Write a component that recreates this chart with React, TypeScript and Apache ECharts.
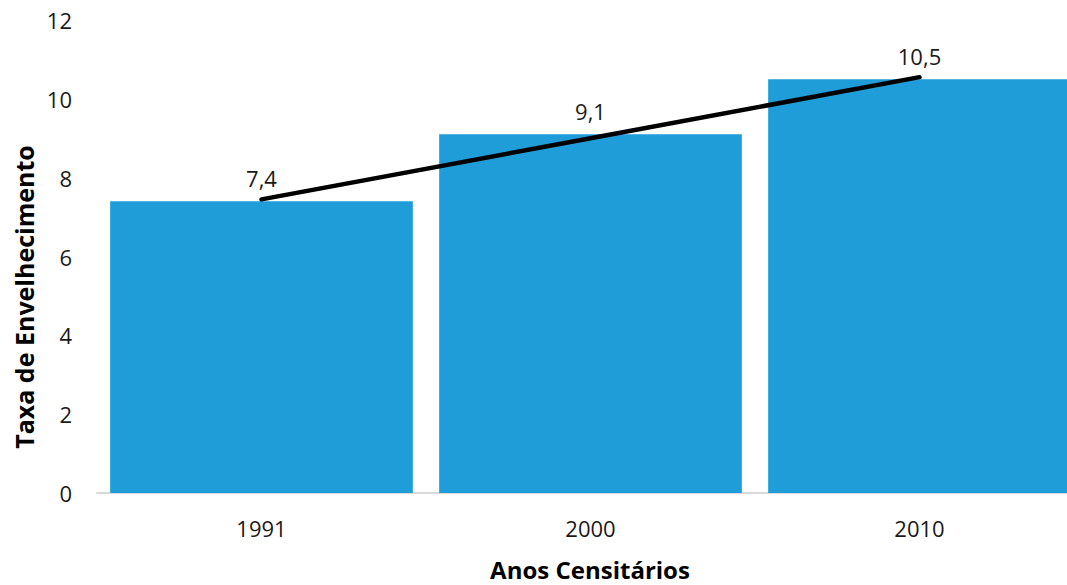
import React, { useEffect, useRef } from "react";
import * as echarts from "echarts";

const categories = ["1991", "2000", "2010"];
const values = [7.4, 9.1, 10.5];
const trendValues = [7.45, 9.0, 10.55];
const valueLabels = ["7,4", "9,1", "10,5"];
const yAxisTitle = "Taxa de Envelhecimento";
const xAxisTitle = "Anos Censitários";

const FONT = "'Open Sans', 'Noto Sans', sans-serif";

export default function App() {
  const ref = useRef<HTMLDivElement>(null);
  useEffect(() => {
    if (!ref.current) return;
    const chart = echarts.init(ref.current, undefined, { renderer: "svg" });
    chart.setOption({
      animation: false,
      backgroundColor: "#ffffff",
      grid: { left: 97, right: 0, top: 20, bottom: 92, containLabel: false },
      xAxis: {
        type: "category",
        data: categories,
        axisLine: { show: true, lineStyle: { color: "#d9d9d9", width: 2 } },
        axisTick: { show: false },
        axisLabel: { color: "#1a1a1a", fontSize: 22, fontFamily: FONT, margin: 24 },
      },
      yAxis: {
        type: "value",
        min: 0,
        max: 12,
        interval: 2,
        splitLine: { show: false },
        axisLine: { show: false },
        axisTick: { show: false },
        axisLabel: { color: "#1a1a1a", fontSize: 22, fontFamily: FONT, margin: 25 },
      },
      series: [
        {
          type: "bar",
          data: values,
          barCategoryGap: "8%",
          itemStyle: { color: "#1e9dd8" },
          label: {
            show: true,
            position: "top",
            distance: 12,
            color: "#1a1a1a",
            fontSize: 22,
            fontFamily: FONT,
            formatter: (p: any) => valueLabels[p.dataIndex],
          },
        },
        {
          type: "line",
          data: trendValues,
          symbol: "none",
          lineStyle: { color: "#000000", width: 4.5, cap: "round" },
          z: 5,
        },
      ],
      graphic: [
        {
          type: "text",
          x: 590,
          y: 569,
          style: {
            text: xAxisTitle,
            fontSize: 24,
            fontWeight: "bold",
            fontFamily: FONT,
            fill: "#000000",
            align: "center",
            verticalAlign: "middle",
          },
        },
        {
          type: "text",
          x: 24,
          y: 297,
          rotation: Math.PI / 2,
          style: {
            text: yAxisTitle,
            fontSize: 25,
            fontWeight: "bold",
            fontFamily: FONT,
            fill: "#000000",
            align: "center",
            verticalAlign: "middle",
          },
        },
      ],
    });
    return () => chart.dispose();
  }, []);
  return (
    <div
      style={{
        position: "fixed",
        left: 0,
        top: 0,
        width: 1067,
        height: 585,
        overflow: "hidden",
        background: "#ffffff",
      }}
    >
      <div ref={ref} style={{ width: 1084, height: 585 }} />
    </div>
  );
}
